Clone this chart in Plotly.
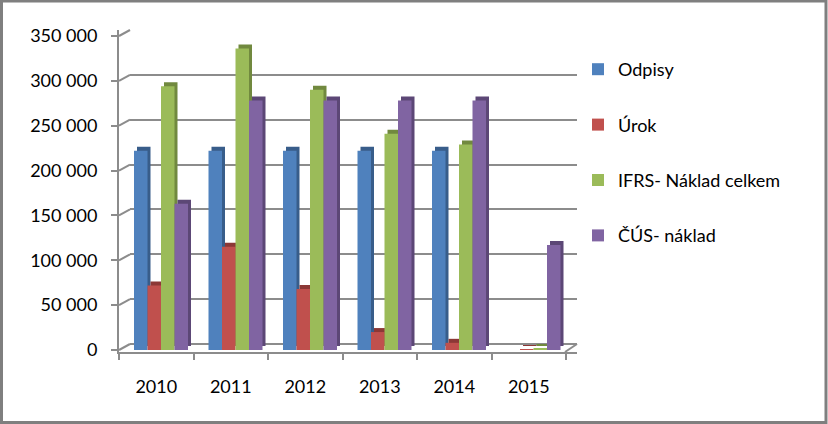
import plotly.graph_objects as go

years = ["2010", "2011", "2012", "2013", "2014", "2015"]
series_names = ["Odpisy", "Úrok", "IFRS- Náklad celkem", "ČÚS- náklad"]
odpisy = [222000, 222000, 222000, 222000, 222000, 0]
urok = [72000, 115000, 68000, 20000, 8000, 1000]
ifrs = [294000, 336000, 290000, 241000, 229000, 1500]
cus = [163000, 278000, 278000, 278000, 278000, 117000]
tick_vals = [0, 50000, 100000, 150000, 200000, 250000, 300000, 350000]
tick_text = ["0", "50 000", "100 000", "150 000", "200 000", "250 000", "300 000", "350 000"]

values = [odpisy, urok, ifrs, cus]
colors = ["#4F81BD", "#C0504D", "#9BBB59", "#8064A2"]
dark = ["#385D8A", "#8C3836", "#71893F", "#5C4776"]

W, H = 828, 424
FONT = "Lato"

# pixel geometry
px_left_front, px_left_back, px_right = 119, 130, 577
px_top, px_bottom = 30, 352
cat_px = 74.5
bar_px = 13.5
unit_per_px = 350000 / 314.0

def fx(p):
    return p / W

def fy(p):
    return 1 - p / H

x_range = [-0.5, -0.5 + (px_right - px_left_front) / cat_px]
bar_w = bar_px / cat_px
first_off = -22.25 / cat_px
side_shift = 3 / cat_px

grid_range = [-8 * unit_per_px, 350000]
bar_range = [-2 * unit_per_px, -2 * unit_per_px + (px_bottom - px_top) * unit_per_px]
side_range = [bar_range[0] - 4 * unit_per_px, bar_range[1] - 4 * unit_per_px]

fig = go.Figure()

# empty trace so the back-wall grid subplot is drawn
fig.add_trace(go.Scatter(x=[], y=[], xaxis="x", yaxis="y", showlegend=False, hoverinfo="skip"))

# side/top faces (depth effect)
for i, (name, vals) in enumerate(zip(series_names, values)):
    fig.add_trace(go.Bar(
        x=years, y=vals, xaxis="x2", yaxis="y2",
        offset=first_off + i * bar_w + side_shift, width=bar_w,
        marker=dict(color=dark[i], line=dict(width=0)),
        showlegend=False, hoverinfo="skip",
    ))

# front faces
for i, (name, vals) in enumerate(zip(series_names, values)):
    fig.add_trace(go.Bar(
        x=years, y=vals, xaxis="x2", yaxis="y3", name=name,
        offset=first_off + i * bar_w, width=bar_w,
        marker=dict(color=colors[i], line=dict(width=0)),
        legendgroup=name,
    ))

grid_color = "#8C8C8C"
tfont = dict(family=FONT, size=18, color="#000", weight="normal")

# diagonal connectors from the front y axis to the back wall grid lines
shapes = []
for v in tick_vals:
    y_front = px_bottom - 2 - v / unit_per_px
    y_back = px_bottom - 8 - v / unit_per_px
    shapes.append(dict(type="line", xref="paper", yref="paper",
                       x0=fx(px_left_front), y0=fy(y_front), x1=fx(px_left_back), y1=fy(y_back),
                       line=dict(color=grid_color, width=2), layer="below"))
shapes.append(dict(type="line", xref="paper", yref="paper",
                   x0=fx(565), y0=fy(px_bottom), x1=fx(px_right), y1=fy(px_bottom - 8),
                   line=dict(color=grid_color, width=2)))
shapes.append(dict(type="rect", xref="paper", yref="paper", x0=fx(1.5), x1=fx(826), y0=fy(422.5), y1=fy(1),
                   line=dict(color="#7F7F7F", width=3)))

fig.update_layout(
    width=W, height=H,
    paper_bgcolor="white", plot_bgcolor="rgba(0,0,0,0)",
    margin=dict(l=0, r=0, t=0, b=0, autoexpand=False),
    barmode="overlay",
    font=tfont,
    xaxis=dict(domain=[fx(px_left_back), fx(px_right)], range=[0, 1], anchor="y",
               visible=False, fixedrange=True),
    yaxis=dict(domain=[fy(px_bottom), fy(px_top)], range=grid_range, anchor="x",
               tickvals=tick_vals, showticklabels=False, ticks="",
               showgrid=True, gridcolor=grid_color, gridwidth=2,
               zeroline=False, showline=False),
    xaxis2=dict(domain=[fx(px_left_front), fx(px_right)], range=x_range, anchor="y2",
                type="category", tickson="boundaries", ticks="outside", ticklen=6,
                tickwidth=2, tickcolor=grid_color, showline=True, linecolor=grid_color,
                linewidth=2, showgrid=False, ticklabelstandoff=17,
                tickfont=tfont),
    yaxis2=dict(domain=[fy(px_bottom), fy(px_top)], range=side_range, anchor="x2",
                visible=False, showgrid=False, zeroline=False),
    yaxis3=dict(overlaying="y2", anchor="x2", range=bar_range, side="left",
                tickvals=tick_vals, ticktext=tick_text, ticks="outside", ticklen=6,
                tickwidth=2, tickcolor=grid_color, showline=True, linecolor=grid_color,
                linewidth=2, showgrid=False, zeroline=False, ticklabelstandoff=10,
                tickfont=tfont),
    legend=dict(x=fx(578), y=fy(51), xanchor="left", yanchor="top",
                traceorder="grouped", tracegroupgap=29,
                font=tfont, bgcolor="rgba(0,0,0,0)"),
    shapes=shapes,
)

fig.write_html("out.html", config={"displayModeBar": False},
               post_script="document.body.style.margin='0';document.body.style.overflow='hidden';")
